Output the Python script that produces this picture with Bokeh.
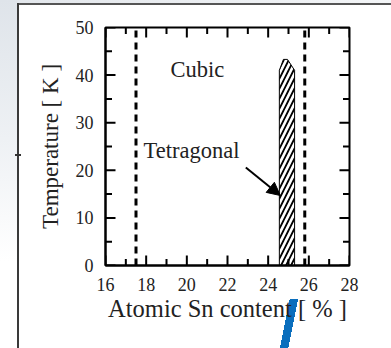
from bokeh.plotting import figure
from bokeh.models import (FixedTicker, Range1d, Label, Arrow, NormalHead)
from bokeh.embed import file_html
from bokeh.resources import INLINE

# ---- data ----
x_major = [16, 18, 20, 22, 24, 26, 28]
x_minor = [17, 19, 21, 23, 25, 27]
y_major = [0, 10, 20, 30, 40, 50]
y_minor = [5, 15, 25, 35, 45]
boundary_sn = [17.5, 25.8]            # dashed phase boundaries (%)
boundary_t = [0, 50]
tetra_x = [24.55, 24.55, 24.75, 24.95, 25.3, 25.3]   # tetragonal region outline
tetra_t = [0, 41, 43.3, 43.3, 41, 0]
cubic_pos = (19.2, 41.1)
tetra_label_pos = (17.87, 24.2)
arrow_from = (22.9, 20.6)
arrow_to = (24.6, 14.7)

FONT = "Liberation Serif"
X0, X1 = x_major[0], x_major[-1]
Y0, Y1 = y_major[0], y_major[-1]
FRAME_W, FRAME_H = 244, 238
PX_X = FRAME_W / (X1 - X0)     # pixels per % Sn
PX_Y = FRAME_H / (Y1 - Y0)     # pixels per K
MAJ, MIN = 10, 6.5             # tick lengths in pixels

decor = ", ".join([
    "linear-gradient(101.5deg, transparent 35%, #0a6ebd 35%, #0a6ebd 65%, transparent 65%) 280px 299px / 18px 49px no-repeat",
    "linear-gradient(#333, #333) 15px 154px / 6px 2px no-repeat",
    "linear-gradient(#3a3a3a, #3a3a3a) 17px 3px / 2px 345px no-repeat",
    "linear-gradient(#555, #555) 17px 3px / 374px 2px no-repeat",
    "linear-gradient(to bottom, #dfe4ea, #eef1f4 40%, #ffffff 75%) 0 0 / 17px 100% no-repeat",
    "linear-gradient(to right, #e2e6eb, #f3f5f7) 0 0 / 100% 3px no-repeat",
    "#ffffff",
])

p = figure(width=391, height=348, output_backend="svg", toolbar_location=None,
           x_range=Range1d(X0, X1), y_range=Range1d(Y0, Y1),
           frame_width=FRAME_W, frame_height=FRAME_H,
           min_border_left=105, min_border_right=42, min_border_top=27, min_border_bottom=83,
           background_fill_color="white", border_fill_color=None)
p.styles = {"background": decor}
p.xgrid.visible = False
p.ygrid.visible = False
p.outline_line_color = "black"
p.outline_line_width = 2

xa = p.xaxis[0]
ya = p.yaxis[0]
for ax, ticks in ((xa, x_major), (ya, y_major)):
    ax.ticker = FixedTicker(ticks=ticks, minor_ticks=[])
    ax.axis_line_width = 2
    ax.axis_line_color = "black"
    ax.major_tick_in = 0
    ax.major_tick_out = 0
    ax.minor_tick_in = 0
    ax.minor_tick_out = 0
    ax.major_label_text_font = FONT
    ax.major_label_text_color = "#222222"
    ax.major_label_text_font_size = "18px"
    ax.axis_label_text_font = FONT
    ax.axis_label_text_font_style = "normal"
    ax.axis_label_text_color = "#222222"
xa.major_label_standoff = 12
ya.major_label_standoff = 12
xa.axis_label = "Atomic Sn content [ % ]"
ya.axis_label = "Temperature [ K ]"
xa.axis_label_text_font_size = "24.5px"
ya.axis_label_text_font_size = "23px"
xa.axis_label_standoff = 1
ya.axis_label_standoff = 10

# inward ticks on all four sides, at the tick arrays above
tk = dict(line_color="black", line_width=2)
for ticks, ln in ((x_major, MAJ), (x_minor, MIN)):
    d = ln / PX_Y
    p.segment(ticks, [Y0] * len(ticks), ticks, [Y0 + d] * len(ticks), **tk)
    p.segment(ticks, [Y1] * len(ticks), ticks, [Y1 - d] * len(ticks), **tk)
for ticks, ln in ((y_major, MAJ), (y_minor, MIN)):
    d = ln / PX_X
    p.segment([X0] * len(ticks), ticks, [X0 + d] * len(ticks), ticks, **tk)
    p.segment([X1] * len(ticks), ticks, [X1 - d] * len(ticks), ticks, **tk)

# dashed phase boundaries
for xb in boundary_sn:
    p.line([xb, xb], boundary_t, line_color="black", line_width=3, line_dash="7 5")

# tetragonal hatched region
p.patch(tetra_x, tetra_t, fill_alpha=0, line_color="black", line_width=1.0,
        hatch_pattern="right_diagonal_line", hatch_color="black",
        hatch_weight=1.8, hatch_scale=10)

p.add_layout(Label(x=cubic_pos[0], y=cubic_pos[1], text="Cubic", text_font=FONT,
                   text_font_size="22.5px", text_baseline="middle", text_color="#222222"))
p.add_layout(Label(x=tetra_label_pos[0], y=tetra_label_pos[1], text="Tetragonal", text_font=FONT,
                   text_font_size="22.5px", text_baseline="middle", text_color="#222222"))
p.add_layout(Arrow(x_start=arrow_from[0], y_start=arrow_from[1], x_end=arrow_to[0], y_end=arrow_to[1],
                   line_width=2, line_color="black",
                   end=NormalHead(size=13, fill_color="black", line_color="black")))

open("out.html", "w").write(file_html(p, INLINE))
